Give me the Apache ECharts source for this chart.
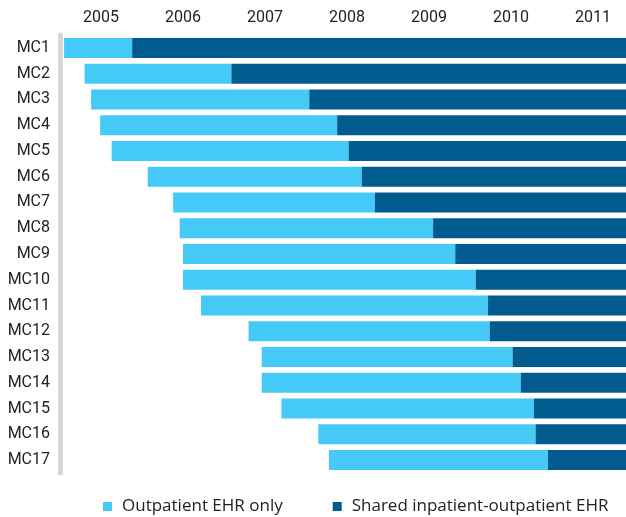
<!DOCTYPE html>
<html>
<head>
<meta charset="utf-8">
<script src="https://cdn.jsdelivr.net/npm/echarts@6/dist/echarts.min.js"></script>
<style>
  html, body { margin: 0; padding: 0; background: #fff; }
  #chart { width: 626px; height: 517px; }
</style>
</head>
<body>
<div id="chart"></div>
<script>
// 医疗中心
const centers = ["MC1", "MC2", "MC3", "MC4", "MC5", "MC6", "MC7", "MC8", "MC9",
  "MC10", "MC11", "MC12", "MC13", "MC14", "MC15", "MC16", "MC17"];
// 年份标签（放在每年区间的中间）
const yearLabels = ["2005", "2006", "2007", "2008", "2009", "2010", "2011"];
// 门诊EHR开始时间（小数年）
const outpatientStart = [2005.05, 2005.30, 2005.38, 2005.49, 2005.63, 2006.07, 2006.38, 2006.46,
  2006.50, 2006.50, 2006.72, 2007.30, 2007.46, 2007.46, 2007.70, 2008.15, 2008.28];
// 共享住院-门诊EHR开始时间
const sharedStart = [2005.88, 2007.09, 2008.04, 2008.38, 2008.52, 2008.68, 2008.84, 2009.55,
  2009.82, 2010.07, 2010.22, 2010.24, 2010.52, 2010.62, 2010.78, 2010.80, 2010.95];
// 结束时间
const periodEnd = 2012;

const seriesNames = ["Outpatient EHR only", "Shared inpatient-outpatient EHR"];

const chart = echarts.init(document.getElementById("chart"));

const option = {
  animation: false,
  color: ["#45C9F6", "#015B8E"],
  grid: {
    left: 60,
    top: 35,
    width: 574,
    height: 438,
    outerBoundsMode: "none",
  },
  legend: {
    data: seriesNames,
    top: 493,
    left: 98,
    itemWidth: 9,
    itemHeight: 9,
    itemGap: 50,
    icon: "rect",
    textStyle: {
      fontFamily: "Open Sans",
      fontSize: 17,
      color: "#222",
      padding: [0, 0, 0, 5],
    },
  },
  xAxis: {
    type: "value",
    position: "top",
    min: 2005,
    max: periodEnd,
    axisLine: { show: false },
    axisTick: { show: false },
    splitLine: { show: false },
    axisLabel: {
      customValues: yearLabels.map((y) => Number(y) + 0.5),
      formatter: (v) => String(Math.floor(v)),
      fontFamily: "Roboto",
      fontSize: 16,
      color: "#222",
      margin: 9,
    },
  },
  yAxis: {
    type: "category",
    inverse: true,
    data: centers,
    axisLine: { show: true, lineStyle: { color: "#D6D6D6", width: 5 } },
    axisTick: { show: false },
    axisLabel: {
      fontFamily: "Roboto",
      fontSize: 16,
      color: "#222",
      margin: 10,
    },
  },
  series: [
    {
      name: "base",
      type: "bar",
      stack: "t",
      barWidth: 20,
      silent: true,
      itemStyle: { color: "transparent" },
      data: outpatientStart,
    },
    {
      name: seriesNames[0],
      type: "bar",
      stack: "t",
      barWidth: 20,
      data: outpatientStart.map((s, i) => +(sharedStart[i] - s).toFixed(3)),
    },
    {
      name: seriesNames[1],
      type: "bar",
      stack: "t",
      barWidth: 20,
      data: sharedStart.map((s) => +(periodEnd - s).toFixed(3)),
    },
  ],
};

chart.setOption(option);
</script>
</body>
</html>
